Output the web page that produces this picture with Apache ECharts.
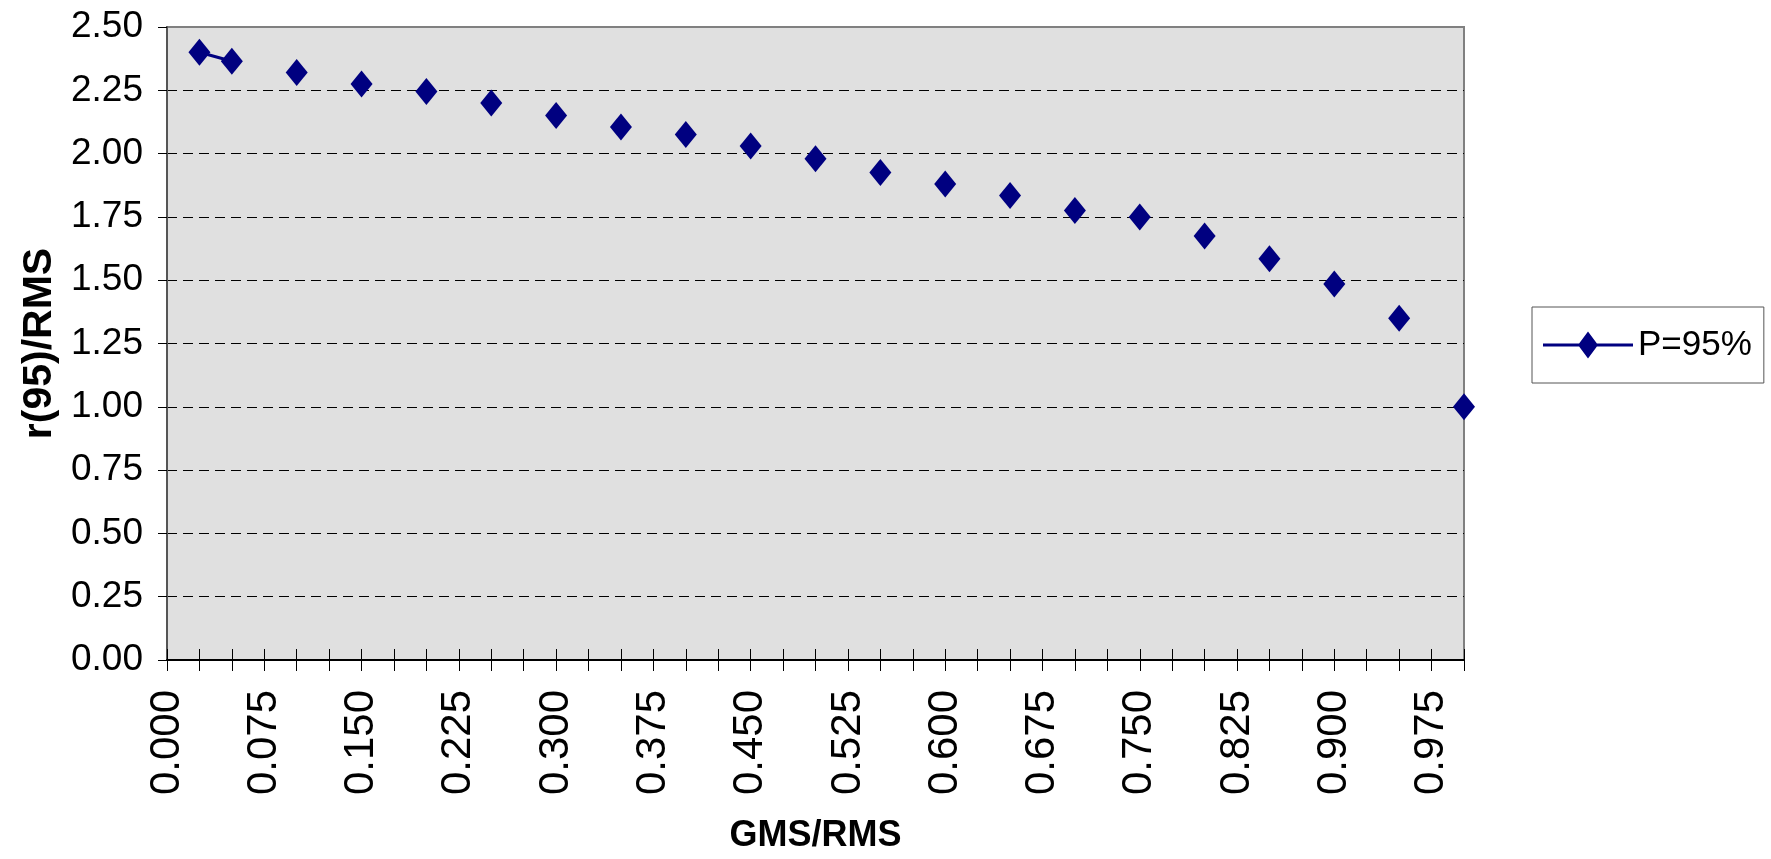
<!DOCTYPE html>
<html>
<head>
<meta charset="utf-8">
<script src="https://cdn.jsdelivr.net/npm/echarts@6/dist/echarts.min.js"></script>
<style>
  html, body { margin: 0; padding: 0; background: #ffffff; }
  #chart { width: 1771px; height: 859px; }
</style>
</head>
<body>
<div id="chart"></div>
<script>
// GMS/RMS ratio (x) and the 95th-percentile ratio r(95)/RMS (y)
const gmsRms = [0.025, 0.05, 0.10, 0.15, 0.20, 0.25, 0.30, 0.35, 0.40, 0.45, 0.50,
                0.55, 0.60, 0.65, 0.70, 0.75, 0.80, 0.85, 0.90, 0.95, 1.00];
const r95Rms = [2.40, 2.365, 2.32, 2.275, 2.245, 2.20, 2.15, 2.105, 2.075, 2.03, 1.98,
                1.925, 1.88, 1.835, 1.775, 1.75, 1.675, 1.585, 1.485, 1.35, 1.00];
// only the first readings are joined by a line segment
const joinedCount = 2;
const seriesName = 'P=95%';
const xTitle = 'GMS/RMS';
const yTitle = 'r(95)/RMS';

const navy = '#000080';
const font = "'Liberation Sans', Arial, sans-serif";

const points = [];
gmsRms.forEach((x, i) => {
  if (i >= joinedCount) points.push([x, null]); // break the line before this point
  points.push([x, r95Rms[i]]);
});

// legend key: a line with a diamond marker in its middle (90 x 27 box)
const legendKey = 'path://M0,12 L90,12 L90,15 L0,15 Z M45,0 L55,13.5 L45,27 L35,13.5 Z';

const chart = echarts.init(document.getElementById('chart'), null, { renderer: 'canvas' });

const xTickLabel = v => {
  const step = Math.round(v / 0.025);
  return step % 3 === 0 ? v.toFixed(3) : '';
};

chart.setOption({
  animation: false,
  backgroundColor: '#ffffff',
  grid: {
    left: 167, right: 307, top: 27, bottom: 198,
    show: true,
    backgroundColor: '#e0e0e0',
    borderColor: '#808080',
    borderWidth: 2
  },
  legend: {
    left: 1532, top: 307,
    orient: 'vertical',
    padding: [18, 12, 18, 11],
    borderColor: '#555555',
    borderWidth: 1,
    itemWidth: 90,
    itemHeight: 27,
    icon: legendKey,
    itemStyle: { color: navy },
    textStyle: { fontFamily: font, fontSize: 35, color: '#000', lineHeight: 40 },
    data: [seriesName]
  },
  xAxis: [{
    type: 'value',
    min: 0, max: 1, interval: 0.025,
    name: xTitle,
    nameLocation: 'middle',
    nameGap: 158,
    nameTextStyle: { fontFamily: font, fontWeight: 'bold', fontSize: 36, color: '#000' },
    axisLine: { show: true, onZero: false, lineStyle: { color: '#000', width: 2 } },
    axisTick: { show: true, length: 11, lineStyle: { color: '#000', width: 1 } },
    axisLabel: {
      rotate: 90, margin: 30,
      fontFamily: font, fontSize: 42, color: '#000',
      formatter: xTickLabel
    },
    splitLine: { show: false }
  }, {
    type: 'value',
    position: 'bottom',
    min: 0, max: 1, interval: 0.025,
    axisLine: { show: false },
    axisTick: { show: true, inside: true, length: 11, lineStyle: { color: '#000', width: 1 } },
    axisLabel: { show: false },
    splitLine: { show: false }
  }],
  yAxis: {
    type: 'value',
    min: 0, max: 2.5, interval: 0.25,
    name: yTitle,
    nameLocation: 'middle',
    nameGap: 96,
    nameRotate: 90,
    nameTextStyle: { fontFamily: font, fontWeight: 'bold', fontSize: 41, color: '#000' },
    axisLine: { show: true, lineStyle: { color: '#555555', width: 2 } },
    axisTick: { show: true, length: 9, lineStyle: { color: '#000', width: 1 } },
    axisLabel: {
      margin: 24,
      fontFamily: font, fontSize: 37, color: '#000',
      formatter: v => v.toFixed(2)
    },
    splitLine: {
      show: true,
      showMinLine: false,
      showMaxLine: false,
      lineStyle: { color: '#000', width: 1, type: [10, 6] }
    }
  },
  series: [{
    name: seriesName,
    type: 'line',
    xAxisIndex: 0,
    data: points,
    connectNulls: false,
    symbol: 'diamond',
    symbolSize: [22, 27],
    itemStyle: { color: navy },
    lineStyle: { color: navy, width: 3 },
    z: 5
  }]
});
</script>
</body>
</html>
